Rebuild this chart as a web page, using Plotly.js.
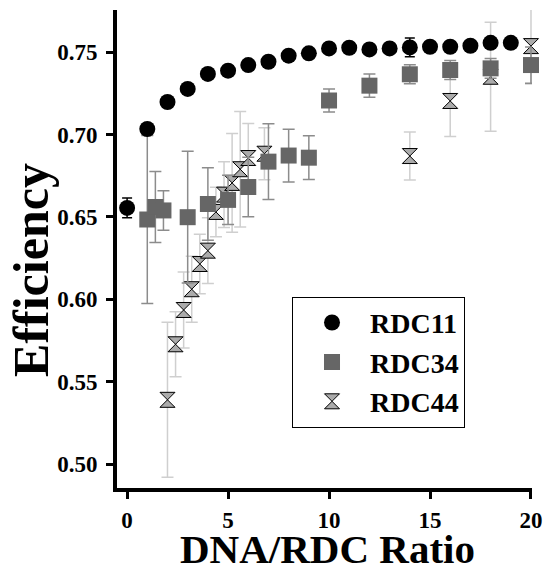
<!DOCTYPE html>
<html>
<head>
<meta charset="utf-8">
<script src="https://cdn.plot.ly/plotly-3.0.1.min.js"></script>
<style>
html,body{margin:0;padding:0;background:#fff;}
#chart{width:547px;height:572px;}
</style>
</head>
<body>
<div id="chart"></div>
<script>
// ---- data ----
const seriesNames = ["RDC11", "RDC34", "RDC44"];

const x11 = [0,1,2,3,4,5,6,7,8,9,10,11,12,13,14,15,16,17,18,19];
const y11 = [0.6554,0.7033,0.7197,0.7276,0.7367,0.7387,0.7421,0.7441,0.7478,0.7492,
             0.7522,0.7526,0.7516,0.7522,0.7528,0.7532,0.7532,0.7538,0.7556,0.7556];
const e11 = [0.006,0.002,0.002,0.002,0.002,0.002,0.002,0.002,0.002,0.002,
             0.002,0.002,0.002,0.002,0.0057,0.002,0.002,0.002,0.002,0.002];

const x34 = [1.0,1.4,1.8,3,4,5,6,7,8,9,10,12,14,16,18,20];
const y34 = [0.6484,0.6560,0.6539,0.6498,0.6578,0.6603,0.6681,0.6835,0.6872,0.6859,
             0.7206,0.7296,0.7365,0.7391,0.7401,0.7421];
const e34 = [0.051,0.0215,0.012,0.040,0.022,0.015,0.018,0.023,0.016,0.0133,
             0.007,0.007,0.0058,0.0058,0.006,0.011];

const x44 = [2.0,2.4,2.8,3.2,3.6,4.0,4.4,4.8,5.2,5.6,6.0,6.8,14,16,18,20];
const y44 = [0.5390,0.5727,0.5935,0.6061,0.6214,0.6295,0.6530,0.6635,0.6706,0.6789,
             0.6857,0.6883,0.6869,0.7203,0.7350,0.7536];
const e44 = [0.047,0.0197,0.023,0.02,0.018,0.02,0.015,0.02,0.03,0.035,
             0.021,0.0158,0.0146,0.0216,0.033,0.023];

const xTickVals = [0,5,10,15,20];
const yTickVals = [0.50,0.55,0.60,0.65,0.70,0.75];
const xTitle = "DNA/RDC Ratio";
const yTitle = "Efficiency";

// ---- chart ----
const SERIF = "Liberation Serif, Times New Roman, serif";

const traces = [
  {
    name: seriesNames[2], x: x44, y: y44, type: "scatter", mode: "markers",
    legendrank: 3, cliponaxis: false,
    marker: {symbol: "hourglass", size: 15, color: "#ababab", line: {color: "#000", width: 1}},
    error_y: {type: "data", array: e44, visible: true, color: "#cfcfcf", thickness: 1.5, width: 6}
  },
  {
    name: seriesNames[1], x: x34, y: y34, type: "scatter", mode: "markers",
    legendrank: 2, cliponaxis: false,
    marker: {symbol: "square", size: 16, color: "#666666"},
    error_y: {type: "data", array: e34, visible: true, color: "#8c8c8c", thickness: 1.5, width: 6}
  },
  {
    name: seriesNames[0], x: x11, y: y11, type: "scatter", mode: "markers",
    legendrank: 1, cliponaxis: false,
    marker: {symbol: "circle", size: 16, color: "#000000"},
    error_y: {type: "data", array: e11, visible: true, color: "#000000", thickness: 1.5, width: 5}
  }
];

const tickFont = {family: SERIF, size: 23, color: "#000", weight: "bold"};

const layout = {
  width: 547, height: 572,
  paper_bgcolor: "#fff", plot_bgcolor: "#fff",
  margin: {l: 117, r: 15, t: 10, b: 84, autoexpand: false},
  showlegend: true,
  legend: {
    x: 0.4217, y: 0.40, xanchor: "left", yanchor: "top",
    bordercolor: "#000", borderwidth: 1, bgcolor: "#fff",
    font: {family: SERIF, size: 28, color: "#000", weight: "bold"},
    itemwidth: 66, indentation: 1
  },
  annotations: [
    {
      text: yTitle, xref: "paper", yref: "paper", x: -0.207, y: 0.4564,
      xanchor: "center", yanchor: "middle", textangle: -90, showarrow: false,
      font: {family: SERIF, size: 50, color: "#000", weight: "bold"}
    },
    {
      text: xTitle, xref: "paper", yref: "paper", x: 0.5084, y: -0.1273,
      xanchor: "center", yanchor: "middle", showarrow: false,
      font: {family: SERIF, size: 41, color: "#000", weight: "bold"}
    }
  ],
  xaxis: {
    range: [-0.5, 20.05], tickvals: xTickVals, ticktext: xTickVals.map(String),
    showgrid: false, zeroline: false,
    showline: true, linecolor: "#000", linewidth: 4,
    ticks: "outside", ticklen: 7, tickwidth: 3, tickcolor: "#000",
    tickfont: tickFont, ticklabelstandoff: 1
  },
  yaxis: {
    range: [0.4855, 0.7755], tickvals: yTickVals, ticktext: yTickVals.map(v => v.toFixed(2)),
    showgrid: false, zeroline: false,
    showline: true, linecolor: "#000", linewidth: 4,
    ticks: "outside", ticklen: 7, tickwidth: 3, tickcolor: "#000",
    tickfont: tickFont, ticklabelstandoff: 4
  },
  xaxis2: {
    overlaying: "x", anchor: "y", side: "bottom", matches: "x",
    range: [-0.5, 20.05], tickvals: xTickVals, showticklabels: false,
    showgrid: false, zeroline: false, showline: false,
    ticks: "inside", ticklen: 7, tickwidth: 3, tickcolor: "#000"
  },
  yaxis2: {
    overlaying: "y", anchor: "x", side: "left", matches: "y",
    range: [0.4855, 0.7755], tickvals: yTickVals, showticklabels: false,
    showgrid: false, zeroline: false, showline: false,
    ticks: "inside", ticklen: 7, tickwidth: 3, tickcolor: "#000"
  }
};

Plotly.newPlot("chart", traces, layout, {staticPlot: true, displayModeBar: false});
</script>
</body>
</html>
